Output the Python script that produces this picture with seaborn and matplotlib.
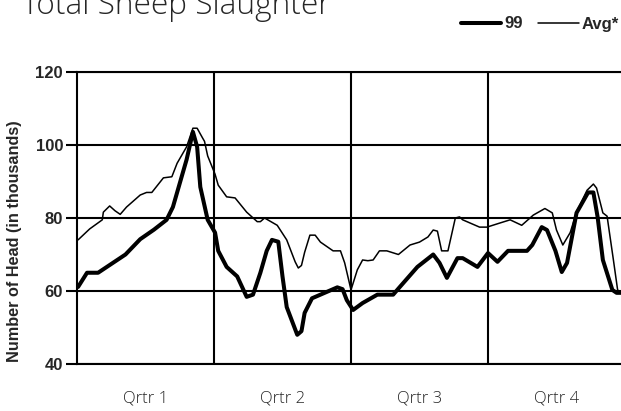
import matplotlib
matplotlib.use("Agg")
import matplotlib.pyplot as plt
import seaborn as sns
import pandas as pd
from matplotlib.lines import Line2D

# Week positions (0-52) and values
weeks_99 = [0.1, 0.95, 2.0, 3.3, 4.6, 6.0, 7.3, 8.5, 9.1, 10.4, 11.0, 11.4, 11.7, 12.4,
            13.1, 13.4, 14.2, 15.2, 16.1, 16.7, 17.4, 18.0, 18.5, 19.1, 19.5, 19.9,
            20.9, 21.3, 21.6, 22.3, 23.1, 24.7, 25.2, 25.6, 26.2, 27.1, 28.5, 30.0,
            30.6, 32.3, 33.8, 34.4, 35.1, 36.1, 36.6, 38.0, 39.0, 39.9, 40.9, 42.7,
            43.2, 44.1, 44.6, 45.4, 46.0, 46.5, 47.4, 48.5, 49.0, 49.4, 49.9, 50.8,
            51.2, 51.6]
vals_99 = [61.1, 65.0, 65.0, 67.5, 70.0, 74.2, 76.8, 79.5, 83.0, 96.0, 103.6, 99.5, 88.5, 79.5,
           76.0, 71.0, 66.6, 64.0, 58.4, 59.0, 65.0, 71.0, 74.0, 73.5, 64.0, 55.6,
           48.0, 49.0, 54.0, 58.0, 59.0, 61.0, 60.5, 57.5, 54.8, 56.7, 59.0, 59.0,
           61.0, 66.6, 70.0, 67.7, 63.6, 69.0, 69.0, 66.6, 70.4, 68.0, 71.0, 71.0,
           72.6, 77.5, 76.7, 71.0, 65.2, 67.7, 81.4, 87.0, 87.0, 80.3, 68.5, 60.3,
           59.5, 59.5]

weeks_avg = [0.1, 1.2, 2.4, 2.5, 3.1, 3.6, 4.1, 4.7, 6.0, 6.6, 7.1, 8.2, 9.0, 9.5, 10.4,
             11.0, 11.4, 11.9, 12.1, 12.4, 13.1, 13.4, 14.2, 15.0, 16.1, 17.1, 17.4,
             17.8, 19.0, 19.9, 20.7, 21.0, 21.3, 21.6, 22.1, 22.6, 23.1, 24.3, 25.0,
             25.4, 26.0, 26.6, 27.1, 27.6, 28.1, 28.7, 29.4, 30.5, 31.6, 32.5, 33.3,
             33.8, 34.2, 34.6, 35.2, 35.9, 36.3, 36.6, 38.2, 38.9, 40.1, 41.1, 42.2,
             43.3, 44.4, 45.1, 45.5, 46.1, 46.8, 47.4, 48.4, 49.0, 49.3, 49.9, 50.3,
             50.9, 51.3, 51.6]
vals_avg = [74.0, 77.0, 79.5, 81.6, 83.3, 82.0, 81.0, 83.0, 86.3, 87.0, 87.0, 91.0, 91.3, 95.0, 99.5,
            104.6, 104.6, 102.0, 101.0, 97.0, 92.0, 89.0, 85.8, 85.5, 81.6, 79.0, 79.0,
            80.0, 78.0, 74.0, 68.0, 66.3, 67.0, 70.6, 75.3, 75.3, 73.4, 71.0, 71.0,
            67.7, 60.3, 65.8, 68.5, 68.3, 68.5, 71.0, 71.0, 70.0, 72.6, 73.4, 74.8,
            76.7, 76.4, 71.0, 71.0, 80.0, 80.3, 79.5, 77.5, 77.5, 78.6, 79.5, 78.0,
            80.8, 82.6, 81.4, 76.7, 72.6, 76.0, 81.6, 87.6, 89.3, 88.2, 81.4, 80.5,
            68.5, 60.3, 59.5]

quarter_labels = ["Qrtr 1", "Qrtr 2", "Qrtr 3", "Qrtr 4"]
y_ticks = [40, 60, 80, 100, 120]

df = pd.concat([
    pd.DataFrame({"week": weeks_99, "head": vals_99, "series": "99"}),
    pd.DataFrame({"week": weeks_avg, "head": vals_avg, "series": "Avg*"}),
])

sns.set_style("white")
plt.rcParams["font.family"] = ["Liberation Sans", "DejaVu Sans"]

fig = plt.figure(figsize=(6.21, 4.11), dpi=100)
ax = fig.add_axes([77/621, 47/411, 544/621, 292/411])

sns.lineplot(data=df, x="week", y="head", hue="series", size="series",
             sizes={"99": 2.9, "Avg*": 1.1}, palette={"99": "black", "Avg*": "black"},
             sort=False, estimator=None, ax=ax, legend=False)

ax.set_xlim(0, 52 * 544 / 548)
ax.set_ylim(40, 120)
ax.set_yticks(y_ticks)
ax.set_yticklabels([str(v) for v in y_ticks], fontsize=12, fontweight="bold")
ax.set_xticks([13, 26, 39])
ax.set_xticklabels([])
ax.set_xticks([6.5, 19.5, 32.5, 45.5], minor=True)
ax.set_xticklabels(quarter_labels, minor=True, fontsize=12,
                   family=["Open Sans", "DejaVu Sans"], fontweight="light")
ax.tick_params(axis="x", which="both", length=0, pad=19)
ax.tick_params(axis="y", which="major", length=8, width=1.5, color="black",
               direction="out", pad=2, left=True)
ax.grid(True, which="major", color="black", linewidth=1.5)
ax.set_axisbelow(True)
for s in ["left", "top", "bottom"]:
    ax.spines[s].set_visible(True)
    ax.spines[s].set_color("black")
    ax.spines[s].set_linewidth(1.5)
ax.spines["right"].set_visible(False)

ax.set_xlabel("")
ax.set_ylabel("Number of Head (in thousands)", fontsize=11.7, fontweight="bold")
ax.yaxis.set_label_coords(-0.101, 0.42)

fig.text(22/621, 1 - 14/411, "Total Sheep Slaughter", fontsize=22.8,
         family=["Open Sans", "DejaVu Sans"], fontweight="light",
         ha="left", va="baseline")

handles = [Line2D([], [], color="black", lw=2.9), Line2D([], [], color="black", lw=1.1)]
leg = fig.legend(handles, ["99", "Avg*"], loc="center right",
                 bbox_to_anchor=(619/621, 1 - 24/411), bbox_transform=fig.transFigure,
                 ncol=2, frameon=False, borderpad=0, borderaxespad=0,
                 handlelength=2.45, handletextpad=0.18, columnspacing=0.9,
                 prop={"weight": "bold", "size": 12})

fig.savefig("out.png", dpi=100)
